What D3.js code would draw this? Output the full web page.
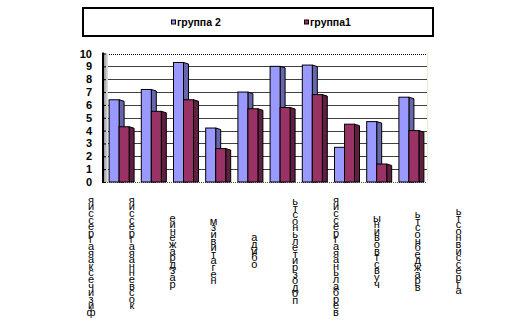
<!DOCTYPE html>
<html>
<head>
<meta charset="utf-8">
<script src="https://cdn.jsdelivr.net/npm/d3@7"></script>
<style>
  html, body { margin: 0; padding: 0; background: #fff; }
  svg { display: block; font-family: "Liberation Sans", Arial, sans-serif; }
</style>
</head>
<body>
<svg id="chart" width="514" height="323"></svg>
<script>
// Scale names (categories) and the two groups' mean scores
const categories = [
  "физическая агрессия", "косвенная агрессия", "раздражение", "негативизм", "обида",
  "подозрительность", "вербальная агрессия", "чувство вины", "враждебность", "агрессивность"
];
const seriesNames = ["группа 2", "группа1"];
const group2 = [6.4, 7.2, 9.3, 4.2, 7.0, 9.0, 9.1, 2.7, 4.7, 6.6];
const group1 = [4.3, 5.5, 6.4, 2.6, 5.7, 5.8, 6.8, 4.5, 1.4, 4.0];
const yTicks = [0, 1, 2, 3, 4, 5, 6, 7, 8, 9, 10];

const colors = {
  "группа 2": { front: "#9999FF", side: "#6666AE" },
  "группа1":  { front: "#993366", side: "#5E1F40" }
};

const svg = d3.select("#chart");

// Plot area (back wall) geometry
const plot = { left: 105, right: 427, top: 53.5, bottom: 182 };
const depth = { dx: 5, dy: 1.5 };

const x = d3.scaleBand().domain(categories).range([plot.left, plot.right]);
const xSub = d3.scaleBand().domain(seriesNames).range([0, 20]);
const y = d3.scaleLinear().domain([0, 10]).range([plot.bottom, plot.top]);

// Gridlines on the back wall
svg.append("g")
  .selectAll("line")
  .data(yTicks.filter(t => t > 0 && t < 10))
  .join("line")
  .attr("x1", plot.left).attr("x2", plot.right)
  .attr("y1", d => Math.round(y(d)) + 0.5).attr("y2", d => Math.round(y(d)) + 0.5)
  .attr("stroke", "#404040").attr("stroke-width", 1);

// Dotted plot border (top, right, floor)
svg.append("line")
  .attr("x1", plot.left).attr("x2", plot.right)
  .attr("y1", Math.round(plot.top) + 0.5).attr("y2", Math.round(plot.top) + 0.5)
  .attr("stroke", "#000").attr("stroke-dasharray", "1,1");
svg.append("line")
  .attr("x1", plot.right + 0.5).attr("x2", plot.right + 0.5)
  .attr("y1", plot.top).attr("y2", plot.bottom)
  .attr("stroke", "#d6d6a8").attr("stroke-dasharray", "1,1");
svg.append("line")
  .attr("x1", plot.left).attr("x2", plot.right)
  .attr("y1", plot.bottom + 0.5).attr("y2", plot.bottom + 0.5)
  .attr("stroke", "#555").attr("stroke-dasharray", "1,1");

// Left side wall with a gray gradient
const defs = svg.append("defs");
const grad = defs.append("linearGradient").attr("id", "wall").attr("x1", 0).attr("x2", 1);
grad.append("stop").attr("offset", "0%").attr("stop-color", "#8a8a8a");
grad.append("stop").attr("offset", "100%").attr("stop-color", "#e4e4e4");
svg.append("rect")
  .attr("x", 103).attr("y", plot.top).attr("width", 5).attr("height", plot.bottom - plot.top)
  .attr("fill", "url(#wall)");
svg.append("line")
  .attr("x1", 103).attr("x2", 103).attr("y1", plot.top - 1).attr("y2", plot.bottom + 1)
  .attr("stroke", "#000").attr("stroke-width", 2);

// Value axis ticks and labels
const yAxis = d3.axisLeft(y).tickValues(yTicks).tickSize(4).tickPadding(8).tickFormat(d3.format("d"));
const yAxisG = svg.append("g").attr("transform", "translate(106,0)").call(yAxis);
yAxisG.select(".domain").remove();
yAxisG.selectAll(".tick line").attr("stroke", "#000");
yAxisG.selectAll(".tick text")
  .attr("x", -14)
  .attr("font-size", 11).attr("font-weight", "bold")
  .attr("font-family", "'Liberation Sans', Arial, sans-serif")
  .attr("fill", "#000");

// 3D columns: front face plus a darker side face
const rows = [];
categories.forEach((c, i) => {
  rows.push({ cat: c, series: seriesNames[0], value: group2[i] });
  rows.push({ cat: c, series: seriesNames[1], value: group1[i] });
});

const groupOffset = (x.bandwidth() - 20) / 2 - 2;
const bars = svg.append("g").selectAll("g").data(rows).join("g");

bars.append("polygon")
  .attr("points", d => {
    const x1 = x(d.cat) + groupOffset + xSub(d.series) + xSub.bandwidth();
    const yt = y(d.value);
    return [[x1, yt], [x1 + depth.dx, yt + depth.dy], [x1 + depth.dx, plot.bottom], [x1, plot.bottom]].join(" ");
  })
  .attr("fill", d => colors[d.series].side)
  .attr("stroke", "#000").attr("stroke-width", 1).attr("stroke-linejoin", "round");

bars.append("rect")
  .attr("x", d => x(d.cat) + groupOffset + xSub(d.series))
  .attr("y", d => y(d.value))
  .attr("width", xSub.bandwidth())
  .attr("height", d => plot.bottom - y(d.value))
  .attr("fill", d => colors[d.series].front)
  .attr("stroke", "#000").attr("stroke-width", 1);

// Category labels: letters stacked vertically, read from bottom to top
const labelX = d3.scalePoint().domain(categories).range([91, 458.5]);
const pitch = 6.6;
const labels = svg.append("g")
  .attr("font-size", 11)
  .attr("font-family", "'Liberation Sans', Arial, sans-serif")
  .attr("fill", "#000");
categories.forEach(name => {
  const chars = Array.from(name.replace(/ /g, "")).reverse();
  const top = Math.max(198, 252 - chars.length * pitch / 2);
  labels.append("g")
    .selectAll("text")
    .data(chars)
    .join("text")
    .attr("x", labelX(name))
    .attr("y", (d, i) => top + 5.8 + i * pitch)
    .attr("text-anchor", "middle")
    .text(d => d);
});

// Legend box
svg.append("rect")
  .attr("x", 83).attr("y", 8).attr("width", 350).attr("height", 28)
  .attr("fill", "none").attr("stroke", "#000").attr("stroke-width", 2);

const legendX = d3.scaleOrdinal().domain(seriesNames).range([171, 304]);
const legend = svg.append("g").selectAll("g").data(seriesNames).join("g")
  .attr("transform", d => `translate(${legendX(d)},22.5)`);
legend.append("rect")
  .attr("x", 0.5).attr("y", -2.5).attr("width", 4).attr("height", 4)
  .attr("fill", d => colors[d].front).attr("stroke", "#000").attr("stroke-width", 1);
legend.append("text")
  .attr("x", 6).attr("dy", "0.35em")
  .attr("font-size", 10.5).attr("font-weight", "bold")
  .attr("font-family", "'Liberation Sans', Arial, sans-serif")
  .text(d => d);
</script>
</body>
</html>
